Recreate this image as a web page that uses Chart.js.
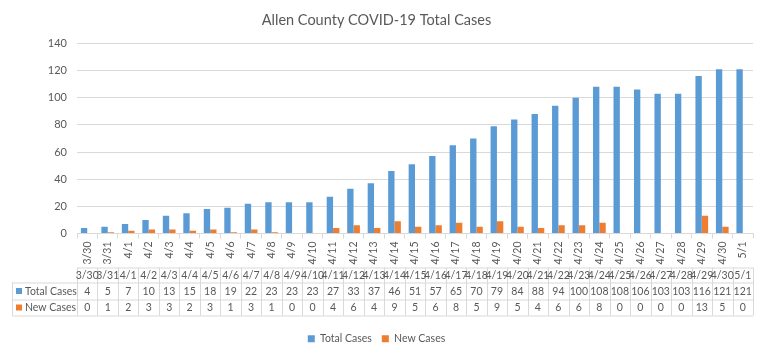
<!DOCTYPE html>
<html>
<head>
<meta charset="utf-8">
<script src="https://cdn.jsdelivr.net/npm/chart.js@4/dist/chart.umd.min.js"></script>
<style>
html,body{margin:0;padding:0;background:#fff;}
#wrap{width:768px;height:356px;position:relative;}
</style>
</head>
<body>
<div id="wrap"><canvas id="c" width="768" height="356"></canvas></div>
<script>
const categories = ['3/30','3/31','4/1','4/2','4/3','4/4','4/5','4/6','4/7','4/8','4/9','4/10','4/11','4/12','4/13','4/14','4/15','4/16','4/17','4/18','4/19','4/20','4/21','4/22','4/23','4/24','4/25','4/26','4/27','4/28','4/29','4/30','5/1'];
const totalCases = [4,5,7,10,13,15,18,19,22,23,23,23,27,33,37,46,51,57,65,70,79,84,88,94,100,108,108,106,103,103,116,121,121];
const newCases = [0,1,2,3,3,2,3,1,3,1,0,0,4,6,4,9,5,6,8,5,9,5,4,6,6,8,0,0,0,0,13,5,0];
const seriesNames = ['Total Cases','New Cases'];
const seriesColors = ['#5B9BD5','#ED7D31'];
const yTicks = {min:0, max:140, step:20};

const TXT = '#595959';
const LINE = '#d9d9d9';
const FAM = "Lato, 'Open Sans', sans-serif";
Chart.defaults.font.family = FAM;
Chart.defaults.color = TXT;

const tablePlugin = {
  id:'dataTable',
  afterDraw(chart){
    const ctx = chart.ctx;
    const xs = chart.scales.x;
    const base = chart.chartArea.bottom;
    const yTop = base + 34, y1 = base + 49, y2 = base + 66, y3 = base + 82;
    const n = categories.length;
    const w = (xs.right - xs.left) / n;
    const L = xs.left, R = xs.right, leftHead = 12;
    ctx.save();
    ctx.strokeStyle = LINE;
    ctx.lineWidth = 1;
    ctx.beginPath();
    ctx.moveTo(L, yTop+0.5); ctx.lineTo(R, yTop+0.5);
    [y1,y2,y3].forEach(y=>{ctx.moveTo(leftHead, y+0.5); ctx.lineTo(R, y+0.5);});
    ctx.moveTo(leftHead+0.5, y1); ctx.lineTo(leftHead+0.5, y3);
    for(let i=0;i<=n;i++){
      const x = Math.round(L + i*w) + 0.5;
      ctx.moveTo(x, yTop); ctx.lineTo(x, y3);
    }
    ctx.stroke();
    ctx.fillStyle = TXT;
    ctx.font = "10.5px " + FAM;
    ctx.textAlign = 'center';
    ctx.textBaseline = 'middle';
    for(let i=0;i<n;i++){
      const cx = xs.getPixelForValue(i);
      ctx.fillText(categories[i], cx, (yTop+y1)/2+0.5);
      ctx.fillText(String(totalCases[i]), cx, (y1+y2)/2+0.5);
      ctx.fillText(String(newCases[i]), cx, (y2+y3)/2+0.5);
    }
    ctx.textAlign = 'left';
    [[y1,y2],[y2,y3]].forEach((r,k)=>{
      const cy = (r[0]+r[1])/2;
      ctx.fillStyle = seriesColors[k];
      ctx.fillRect(16, cy-3, 6, 6);
      ctx.fillStyle = TXT;
      ctx.fillText(seriesNames[k], 25, cy+0.5);
    });
    ctx.restore();
  }
};

new Chart(document.getElementById('c'), {
  type:'bar',
  data:{
    labels: categories,
    datasets:[
      {label: seriesNames[0], data: totalCases, backgroundColor: seriesColors[0], categoryPercentage:0.62, barPercentage:1},
      {label: seriesNames[1], data: newCases, backgroundColor: seriesColors[1], categoryPercentage:0.62, barPercentage:1}
    ]
  },
  options:{
    responsive:false,
    animation:false,
    layout:{padding:{left:0,right:15,top:0,bottom:2}},
    plugins:{
      title:{display:true, text:'Allen County COVID-19 Total Cases', color:TXT,
        font:{size:14.5, weight:'normal'}, padding:{top:12,bottom:14}},
      legend:{position:'bottom', labels:{boxWidth:7, boxHeight:7, color:TXT, font:{size:10.5}, padding:10}},
      tooltip:{enabled:false}
    },
    scales:{
      x:{
        grid:{display:true, drawOnChartArea:false, drawTicks:true, tickLength:5, color:LINE, offset:true},
        border:{display:true, color:LINE},
        ticks:{autoSkip:false, minRotation:90, maxRotation:90, font:{size:10.5}, color:TXT, padding:3},
        afterFit(s){ s.height = 90; }
      },
      y:{
        min:yTicks.min, max:yTicks.max,
        ticks:{stepSize:yTicks.step, font:{size:11}, color:TXT, padding:10},
        grid:{color:LINE, drawTicks:false},
        border:{display:false},
        afterFit(s){ s.width = 77; }
      }
    }
  },
  plugins:[tablePlugin]
});
</script>
</body>
</html>
